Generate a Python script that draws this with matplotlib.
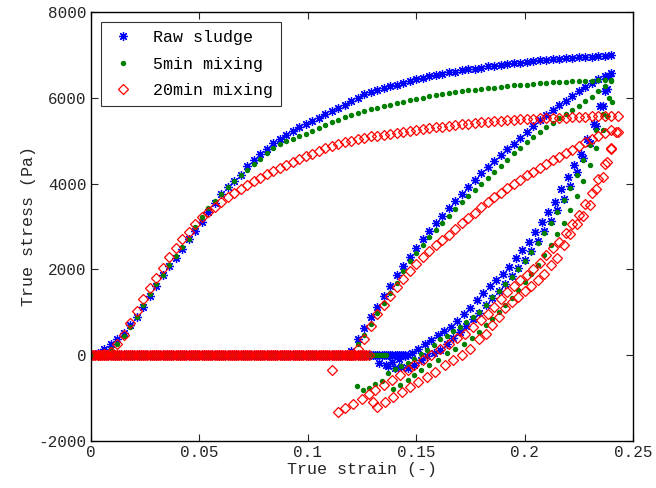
import numpy as np
import matplotlib
matplotlib.use('Agg')
import matplotlib.pyplot as plt

plt.rcParams['font.family'] = ['Liberation Mono', 'DejaVu Sans Mono']

# loading curve (first compression), strain grid shared by the three samples
load_strain = [0.000, 0.003, 0.006, 0.009, 0.012, 0.015, 0.018, 0.021, 0.024, 0.027,
               0.030, 0.033, 0.036, 0.039, 0.042, 0.045, 0.048, 0.051, 0.054, 0.057,
               0.060, 0.063, 0.066, 0.069, 0.072, 0.075, 0.078, 0.081, 0.084, 0.087,
               0.090, 0.093, 0.096, 0.099, 0.102, 0.105, 0.108, 0.111, 0.114, 0.117,
               0.120, 0.123, 0.126, 0.129, 0.132, 0.135, 0.138, 0.141, 0.144, 0.147,
               0.150, 0.153, 0.156, 0.159, 0.162, 0.165, 0.168, 0.171, 0.174, 0.177,
               0.180, 0.183, 0.186, 0.189, 0.192, 0.195, 0.198, 0.201, 0.204, 0.207,
               0.210, 0.213, 0.216, 0.219, 0.222, 0.225, 0.228, 0.231, 0.234, 0.237,
               0.240, 0.243]

raw_load = [0, 60, 150, 260, 380, 510, 700, 900, 1120, 1370,
            1620, 1870, 2080, 2270, 2470, 2700, 2900, 3110, 3330, 3550,
            3750, 3910, 4060, 4210, 4400, 4540, 4680, 4800, 4940, 5050,
            5140, 5230, 5310, 5380, 5460, 5540, 5620, 5690, 5760, 5840,
            5920, 6000, 6080, 6130, 6180, 6230, 6270, 6310, 6350, 6390,
            6430, 6460, 6500, 6530, 6560, 6590, 6610, 6640, 6660, 6680,
            6700, 6730, 6750, 6770, 6790, 6800, 6820, 6840, 6850, 6870,
            6890, 6900, 6910, 6920, 6930, 6940, 6950, 6960, 6970, 6980,
            6990]

mix5_load = [0, 20, 70, 150, 270, 440, 660, 900, 1160, 1420,
             1660, 1880, 2100, 2310, 2520, 2720, 2980, 3220, 3430, 3600,
             3760, 3920, 4060, 4190, 4320, 4450, 4580, 4720, 4840, 4920,
             4990, 5050, 5100, 5160, 5230, 5300, 5370, 5440, 5490, 5550,
             5600, 5650, 5700, 5730, 5770, 5810, 5840, 5880, 5910, 5940,
             5970, 6000, 6040, 6070, 6090, 6120, 6140, 6160, 6180, 6190,
             6210, 6220, 6240, 6260, 6270, 6290, 6300, 6310, 6320, 6340,
             6350, 6360, 6370, 6370, 6380, 6390, 6400, 6400, 6410, 6410,
             6420]

mix20_load = [0, 0, 20, 70, 250, 470, 750, 1030, 1310, 1570,
              1810, 2030, 2280, 2500, 2700, 2880, 3050, 3220, 3340, 3460,
              3580, 3690, 3780, 3870, 3960, 4050, 4140, 4230, 4300, 4370,
              4440, 4510, 4580, 4640, 4700, 4760, 4820, 4880, 4920, 4960,
              5000, 5040, 5070, 5100, 5120, 5140, 5160, 5190, 5210, 5230,
              5250, 5270, 5290, 5310, 5330, 5350, 5370, 5390, 5400, 5420,
              5430, 5440, 5460, 5470, 5480, 5490, 5500, 5510, 5510, 5520,
              5520, 5530, 5530, 5540, 5550, 5560, 5560, 5570, 5570, 5570,
              5570, 5570]

# zero-stress part (sample not in contact), dense sampling
zero_strain = [0.000, 0.001, 0.002, 0.003, 0.004, 0.005, 0.006, 0.007, 0.008, 0.009,
               0.010, 0.011, 0.012, 0.013, 0.014, 0.015, 0.016, 0.017, 0.018, 0.019,
               0.020, 0.021, 0.022, 0.023, 0.024, 0.025, 0.026, 0.027, 0.028, 0.029,
               0.030, 0.031, 0.032, 0.033, 0.034, 0.035, 0.036, 0.037, 0.038, 0.039,
               0.040, 0.041, 0.042, 0.043, 0.044, 0.045, 0.046, 0.047, 0.048, 0.049,
               0.050, 0.051, 0.052, 0.053, 0.054, 0.055, 0.056, 0.057, 0.058, 0.059,
               0.060, 0.061, 0.062, 0.063, 0.064, 0.065, 0.066, 0.067, 0.068, 0.069,
               0.070, 0.071, 0.072, 0.073, 0.074, 0.075, 0.076, 0.077, 0.078, 0.079,
               0.080, 0.081, 0.082, 0.083, 0.084, 0.085, 0.086, 0.087, 0.088, 0.089,
               0.090, 0.091, 0.092, 0.093, 0.094, 0.095, 0.096, 0.097, 0.098, 0.099,
               0.100, 0.101, 0.102, 0.103, 0.104, 0.105, 0.106, 0.107, 0.108, 0.109,
               0.110, 0.111, 0.112, 0.113, 0.114, 0.115, 0.116, 0.117, 0.118, 0.119,
               0.120, 0.121, 0.122, 0.123, 0.124, 0.125, 0.126, 0.127, 0.128, 0.129,
               0.130, 0.131, 0.132, 0.133, 0.134, 0.135, 0.136, 0.137, 0.138, 0.139,
               0.140, 0.141, 0.142, 0.143, 0.144, 0.145, 0.146]
zero_end = {'raw': 0.146, 'mix5': 0.136, 'mix20': 0.128}

# reloading, upper branch
up_strain = [0.120, 0.123, 0.126, 0.129, 0.132, 0.135, 0.138, 0.141, 0.144, 0.147,
             0.150, 0.153, 0.156, 0.159, 0.162, 0.165, 0.168, 0.171, 0.174, 0.177,
             0.180, 0.183, 0.186, 0.189, 0.192, 0.195, 0.198, 0.201, 0.204, 0.207,
             0.210, 0.213, 0.216, 0.219, 0.222, 0.225, 0.228, 0.231, 0.234, 0.237,
             0.240]
raw_up = [100, 380, 640, 880, 1130, 1380, 1620, 1860, 2080, 2290,
          2500, 2700, 2890, 3070, 3250, 3420, 3590, 3760, 3930, 4090,
          4240, 4390, 4530, 4670, 4800, 4930, 5060, 5200, 5340, 5480,
          5600, 5720, 5830, 5930, 6040, 6150, 6250, 6340, 6430, 6510,
          6580]
mix5_up = [50, 250, 480, 730, 980, 1220, 1450, 1680, 1960, 2190,
           2390, 2580, 2760, 2930, 3090, 3250, 3400, 3560, 3700, 3840,
           3980, 4120, 4260, 4410, 4560, 4710, 4840, 4970, 5090, 5210,
           5320, 5420, 5520, 5620, 5720, 5820, 5920, 6020, 6150, 6280,
           6400]
mix20_up = [0, 140, 380, 670, 950, 1180, 1380, 1590, 1780, 1960,
            2130, 2290, 2430, 2560, 2680, 2810, 2950, 3070, 3190, 3320,
            3460, 3580, 3690, 3790, 3890, 3990, 4090, 4190, 4280, 4370,
            4460, 4550, 4630, 4710, 4790, 4880, 4960, 5040, 5110, 5180,
            5260]

# unloading / second reloading, two lower branches per sample
raw_a_strain = [0.133, 0.136, 0.139, 0.142, 0.145, 0.148, 0.151, 0.154, 0.157, 0.160,
                0.163, 0.166, 0.169, 0.172, 0.175, 0.178, 0.181, 0.184, 0.187, 0.190,
                0.193, 0.196, 0.199, 0.202, 0.205, 0.208, 0.211, 0.214, 0.217, 0.220,
                0.223, 0.226, 0.229, 0.232, 0.235, 0.237, 0.239]
raw_a = [-190, -230, -170, -90, -20, 50, 150, 250, 350, 460,
         560, 660, 800, 950, 1110, 1290, 1450, 1620, 1750, 1890,
         2050, 2260, 2450, 2650, 2870, 3110, 3340, 3580, 3880, 4160,
         4430, 4700, 5030, 5400, 5800, 6150, 6500]
raw_b_strain = [0.137, 0.140, 0.143, 0.146, 0.149, 0.152, 0.155, 0.158, 0.161, 0.164,
                0.167, 0.170, 0.173, 0.176, 0.179, 0.182, 0.185, 0.188, 0.191, 0.194,
                0.197, 0.200, 0.203, 0.206, 0.209, 0.212, 0.215, 0.218, 0.221, 0.224,
                0.227, 0.230, 0.233, 0.236, 0.238]
raw_b = [-260, -300, -280, -300, -230, -120, -20, 60, 130, 260,
         390, 540, 680, 850, 990, 1160, 1330, 1500, 1660, 1840,
         2030, 2230, 2440, 2660, 2890, 3130, 3380, 3650, 3950, 4270,
         4600, 4950, 5350, 5800, 6200]

mix5_a_strain = [0.1226, 0.1256, 0.128, 0.131, 0.134, 0.137, 0.140, 0.143, 0.146, 0.149,
                 0.152, 0.155, 0.158, 0.161, 0.164, 0.167, 0.170, 0.173, 0.176, 0.179,
                 0.182, 0.185, 0.188, 0.191, 0.194, 0.197, 0.200, 0.203, 0.206, 0.209,
                 0.212, 0.215, 0.218, 0.221, 0.224, 0.227, 0.230, 0.233, 0.236, 0.239]
mix5_a = [-720, -820, -770, -680, -590, -420, -330, -260, -180, -90,
          20, 110, 240, 370, 450, 560, 660, 770, 880, 1010,
          1180, 1360, 1500, 1660, 1820, 2000, 2190, 2400, 2610, 2840,
          3080, 3330, 3610, 3900, 4210, 4540, 4890, 5260, 5630, 6000]
mix5_b_strain = [0.1394, 0.1425, 0.146, 0.149, 0.152, 0.156, 0.160, 0.164, 0.168, 0.172,
                 0.1756, 0.179, 0.182, 0.185, 0.188, 0.191, 0.194, 0.197, 0.200, 0.203,
                 0.206, 0.209, 0.212, 0.215, 0.218, 0.221, 0.224, 0.227, 0.230, 0.233,
                 0.236, 0.238, 0.2405]
mix5_b = [-780, -700, -580, -470, -350, -230, -120, 40, 155, 270,
          390, 545, 700, 850, 1000, 1160, 1330, 1510, 1700, 1900,
          2110, 2330, 2570, 2820, 3090, 3380, 3700, 4050, 4430, 4830,
          5250, 5580, 5900]

mix20_a_strain = [0.111, 0.114, 0.117, 0.121, 0.125, 0.128, 0.131, 0.135, 0.139, 0.1425,
                  0.146, 0.149, 0.153, 0.157, 0.161, 0.165, 0.169, 0.1725, 0.176, 0.180,
                  0.183, 0.186, 0.189, 0.192, 0.195, 0.198, 0.201, 0.204, 0.207, 0.210,
                  0.213, 0.216, 0.219, 0.222, 0.225, 0.228, 0.231, 0.234, 0.237, 0.240,
                  0.242]
mix20_a = [-350, -1320, -1240, -1130, -1010, -900, -820, -700, -580, -470,
           -350, -230, -120, 0, 155, 270, 390, 505, 660, 830,
           960, 1120, 1300, 1480, 1620, 1750, 1880, 2010, 2160, 2340,
           2500, 2640, 2850, 3060, 3270, 3520, 3780, 4100, 4450, 4820,
           5200]
mix20_b_strain = [0.130, 0.1317, 0.1356, 0.1394, 0.1433, 0.1471, 0.151, 0.1548, 0.1587, 0.1633,
                  0.1671, 0.1709, 0.1748, 0.179, 0.182, 0.185, 0.188, 0.191, 0.194, 0.197,
                  0.200, 0.203, 0.206, 0.209, 0.212, 0.215, 0.218, 0.221, 0.224, 0.227,
                  0.230, 0.233, 0.236, 0.238, 0.240, 0.243]
mix20_b = [-1090, -1200, -1090, -970, -860, -740, -620, -510, -390, -230,
           -120, 0, 155, 380, 500, 700, 880, 1090, 1230, 1360,
           1490, 1620, 1750, 1900, 2100, 2260, 2560, 2830, 3050, 3250,
           3500, 3880, 4150, 4500, 4800, 5200]

labels = ['Raw sludge', '5min mixing', '20min mixing']
xticks = [0, 0.05, 0.1, 0.15, 0.2, 0.25]
xtick_labels = ['0', '0.05', '0.1', '0.15', '0.2', '0.25']
yticks = [-2000, 0, 2000, 4000, 6000, 8000]
ytick_labels = ['-2000', '0', '2000', '4000', '6000', '8000']


def collect(load, zend, up, a_s, a_v, b_s, b_v):
    zs = np.array(zero_strain)
    zs = zs[zs <= zend + 1e-9]
    x = np.concatenate([load_strain[:len(load)], zs, up_strain, a_s, b_s])
    y = np.concatenate([load, np.zeros(len(zs)), up, a_v, b_v])
    return x, y


fig = plt.figure(figsize=(6.56, 4.88), dpi=100)
ax = fig.add_axes([91/656, 47/488, 542/656, 429/488])

x, y = collect(raw_load, zero_end['raw'], raw_up, raw_a_strain, raw_a, raw_b_strain, raw_b)
ax.plot(x, y, linestyle='none', marker=(8, 2, 0), markersize=6.5, markeredgewidth=0.9,
        color='#0000ff', label=labels[0])
x, y = collect(mix5_load, zero_end['mix5'], mix5_up, mix5_a_strain, mix5_a, mix5_b_strain, mix5_b)
ax.plot(x, y, linestyle='none', marker='o', markersize=3.9, markeredgewidth=0,
        color='#008000', label=labels[1])
x, y = collect(mix20_load, zero_end['mix20'], mix20_up, mix20_a_strain, mix20_a, mix20_b_strain, mix20_b)
ax.plot(x, y, linestyle='none', marker='D', markersize=4.8, markeredgewidth=0.9,
        markerfacecolor='none', markeredgecolor='#ff0000', label=labels[2])

ax.set_xlim(0, 0.25)
ax.set_ylim(-2000, 8000)
ax.set_xticks(xticks)
ax.set_xticklabels(xtick_labels)
ax.set_yticks(yticks)
ax.set_yticklabels(ytick_labels)
ax.tick_params(direction='in', top=True, right=True, length=5, width=0.8,
               labelsize=11.5, colors='#262626', pad=3)
for s in ax.spines.values():
    s.set_linewidth(1.0)
    s.set_color('black')

ax.set_xlabel('True strain (-)', fontsize=12, color='#262626', labelpad=1)
ax.set_ylabel('True stress (Pa)', fontsize=12, color='#262626', labelpad=2)

leg = ax.legend(loc='upper left', bbox_to_anchor=(10/542, 1 - 10/429), borderaxespad=0,
                fontsize=12, frameon=True, fancybox=False, edgecolor='black',
                handlelength=1.6, handletextpad=1.0, labelspacing=0.68, borderpad=0.5)
leg.get_frame().set_linewidth(0.8)

fig.savefig('out.png', dpi=100)
